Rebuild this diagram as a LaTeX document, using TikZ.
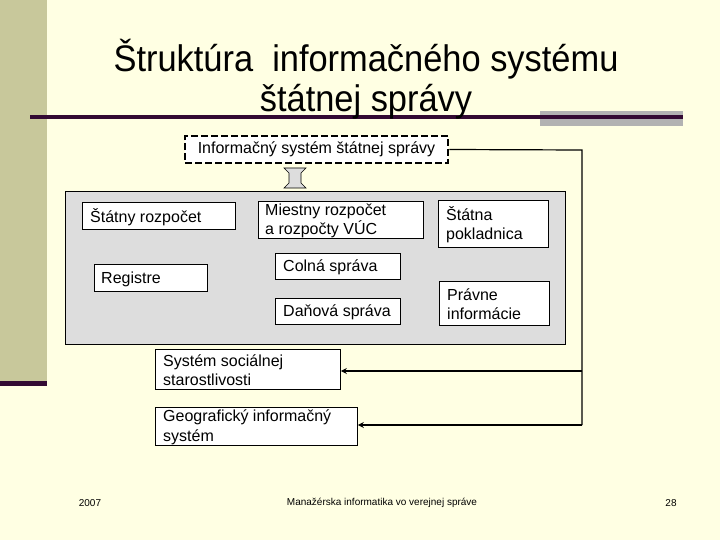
\documentclass[tikz,border=0pt]{standalone}
\usepackage{fontspec}
\setmainfont{Liberation Sans}
\usetikzlibrary{arrows.meta,calc}
\definecolor{bgy}{HTML}{FFFFE3}
\definecolor{khaki}{HTML}{C8C89B}
\definecolor{dpurp}{HTML}{330A33}
\definecolor{gbox}{HTML}{DDDDDD}
\definecolor{grect}{HTML}{B2B2B2}
\tikzset{
  sbox/.style={draw=black, line width=0.8pt, fill=white, anchor=north west, inner sep=0pt},
  btxt/.style={anchor=west, align=left, inner sep=0pt, font=\fontsize{16}{19.5}\selectfont},
  conn/.style={line width=2pt, -{Stealth[length=6pt,width=6pt]}},
  line/.style={line width=1.2pt},
  foot/.style={font=\fontsize{10}{12}\selectfont},
}
\newcommand{\bx}[7]{% name, x1, y1, x2, y2, text offset, text
  \node[sbox, minimum width={#4-#2}, minimum height={#5-#3}] (#1) at (#2,#3) {};
  \node[btxt] at ($(#1.west)+(#6,1)$) {#7};
}
\begin{document}
\begin{tikzpicture}[x=1pt,y=-1pt]
\useasboundingbox (0,0) rectangle (720,540);
\fill[bgy] (0,0) rectangle (720,540);
% left bar
\fill[khaki] (0,0) rectangle (47,381);
\fill[dpurp] (0,381) rectangle (47,386);
% title rule
\fill[grect] (540,111) rectangle (683,126);
\fill[dpurp] (30,115.5) rectangle (683,119);
% title
\node[font=\fontsize{37}{40}\selectfont, align=center, xscale=0.93, inner sep=0pt] (title) at (366,79)
  {Štruktúra\ \ informačného systému\\ štátnej správy};
% dashed box
\node[draw=black, line width=2.8pt, dash pattern=on 7pt off 3pt, fill=white,
  minimum width=263pt, minimum height=27pt, inner sep=0pt, font=\fontsize{16}{19}\selectfont]
  (isb) at (316.5,149.5) {Informačný systém štátnej správy};
% double arrow
\draw[fill=gbox, draw=black, line width=0.6pt] (284,168) -- (306,168) -- (301,173) -- (301,183) -- (306,188)
  -- (284,188) -- (289,183) -- (289,173) -- cycle;
% gray container
\node[draw=black, line width=0.8pt, fill=gbox, anchor=north west, inner sep=0pt,
  minimum width=500pt, minimum height=153pt] (cont) at (65,191) {};
\bx{sr}{82}{202}{235}{229}{8}{Štátny rozpočet}
\bx{mr}{258}{201}{423}{238}{7}{Miestny rozpočet\\a rozpočty VÚC}
\bx{sp}{438}{200}{548}{247}{8}{Štátna\\pokladnica}
\bx{reg}{94}{264}{207}{291}{7}{Registre}
\bx{col}{275}{253}{400}{279}{8}{Colná správa}
\bx{dan}{275}{298}{400}{324}{8}{Daňová správa}
\bx{pi}{439}{281}{549}{325}{8}{Právne\\informácie}
\bx{soc}{155}{349}{340}{389}{8}{Systém sociálnej\\starostlivosti}
\bx{geo}{155}{407}{357}{445}{8}{Geografický informačný\\systém}
% connectors
\coordinate (c1) at (582,150);
\coordinate (c2) at (582,371);
\coordinate (c3) at (582,425);
\draw[line] (isb.east) -- (c1) -- (c3);
\draw[conn] (c2) -- (soc.east |- c2);
\draw[conn] (c3) -- (geo.east |- c3);
% footer
\node[foot] (f1) at (90,503) {2007};
\node[foot] (f2) at (382,503) {Manažérska informatika vo verejnej správe};
\node[foot] (f3) at (671,503) {28};
\end{tikzpicture}
\end{document}
